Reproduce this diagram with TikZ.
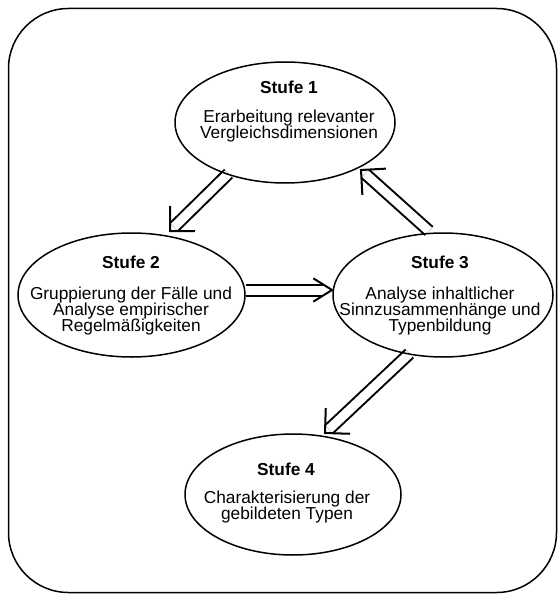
\documentclass[tikz,border=0pt]{standalone}
\usepackage{fontspec}
\setmainfont{Liberation Sans}
\usetikzlibrary{calc,shapes.geometric}
\pgfdeclarelayer{bg}
\pgfsetlayers{bg,main}
\newcommand\dblarrow[5]{% #1 from, #2 to, #3 half angle, #4 arm length, #5 shaft back
  \draw[shaft] (#1) -- ($(#2)!#5!(#1)$);
  \draw[head] ($(#2)!#4!#3:(#1)$) -- (#2) -- ($(#2)!#4!-#3:(#1)$);
}
\begin{document}
\begin{tikzpicture}[x=1pt,y=-1pt,
  stage/.style={draw, ellipse, line width=1.5pt, inner sep=0pt},
  ttl/.style={font=\fontsize{17.3}{15}\selectfont\bfseries, anchor=base, inner sep=0pt},
  body/.style={font=\fontsize{17.3}{15}\selectfont, anchor=base, inner sep=0pt},
  shaft/.style={line width=2pt, double=white, double distance=9pt},
  head/.style={line width=2pt, line join=miter}]
\useasboundingbox (0,0) rectangle (558,594);
\draw[line width=1.5pt, rounded corners=60pt] (8.5,8.5) rectangle (556.5,592.5);

\node[stage, minimum width=220pt, minimum height=121pt] (e1) at (285,122.5) {};
\node[stage, minimum width=227pt, minimum height=124pt] (e2) at (131.5,295) {};
\node[stage, minimum width=220pt, minimum height=124pt] (e3) at (443,295) {};
\node[stage, minimum width=216pt, minimum height=121pt] (e4) at (293,494.5) {};

\node[ttl]  (t1)  at (289,93)  {Stufe 1};
\node[body] (t1a) at (289,122.5) {Erarbeitung relevanter};
\node[body] (t1b) at (289,138.5) {Vergleichsdimensionen};

\node[ttl]  (t2)  at (131,268) {Stufe 2};
\node[body] (t2a) at (131,299) {Gruppierung der Fälle und};
\node[body] (t2b) at (131,315) {Analyse empirischer};
\node[body] (t2c) at (131,331) {Regelmäßigkeiten};

\node[ttl]  (t3)  at (440,268) {Stufe 3};
\node[body] (t3a) at (440,299) {Analyse inhaltlicher};
\node[body] (t3b) at (440,315) {Sinnzusammenhänge und};
\node[body] (t3c) at (440,331) {Typenbildung};

\node[ttl]  (t4)  at (286,475) {Stufe 4};
\node[body] (t4a) at (287,503.5) {Charakterisierung der};
\node[body] (t4b) at (287,519.5) {gebildeten Typen};

\coordinate (a12s) at (228.5,173.5);
\coordinate (a12e) at (170,231);
\coordinate (a23s) at (246,290);
\coordinate (a23e) at (332,290);
\coordinate (a31s) at (429,231);
\coordinate (a31e) at (361,170);
\coordinate (a34s) at (409.5,353.5);
\coordinate (a34e) at (325,433);

\begin{pgfonlayer}{bg}
\dblarrow{a12s}{a12e}{45}{25pt}{5.5pt}
\dblarrow{a23s}{a23e}{32}{22pt}{8.8pt}
\dblarrow{a31s}{a31e}{45}{25pt}{5.5pt}
\dblarrow{a34s}{a34e}{45}{25pt}{5.5pt}
\end{pgfonlayer}
\end{tikzpicture}
\end{document}
